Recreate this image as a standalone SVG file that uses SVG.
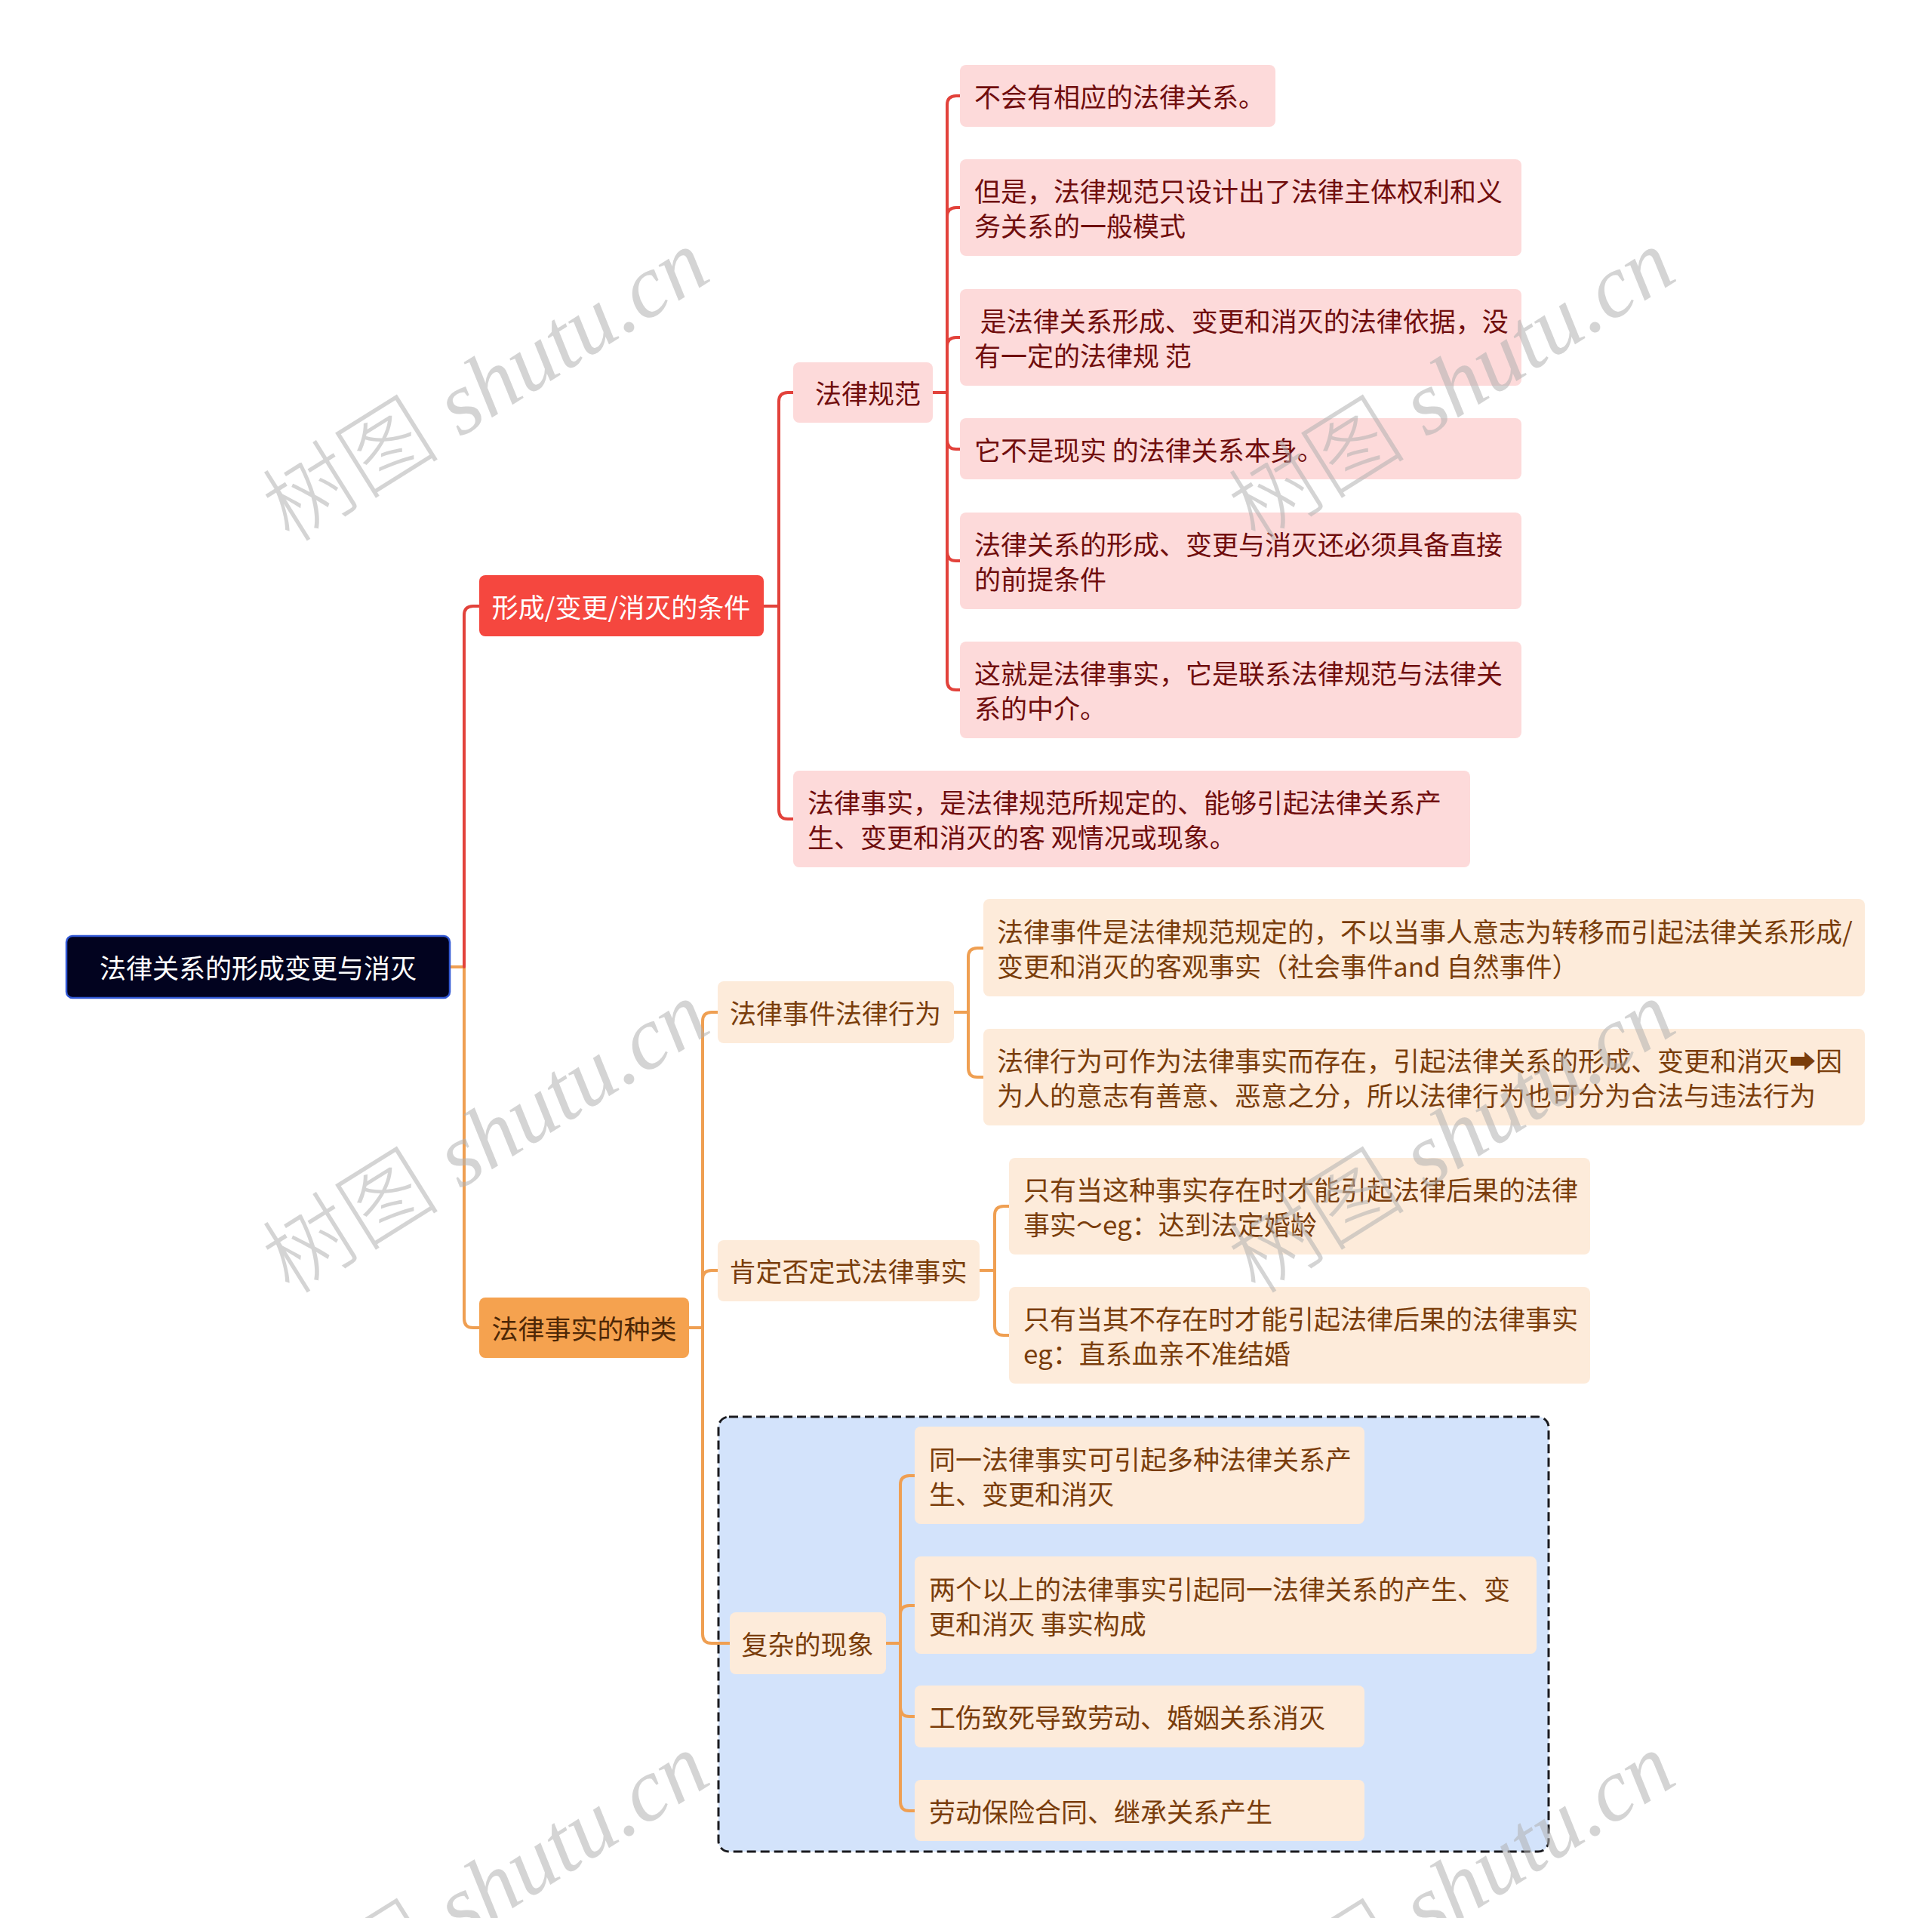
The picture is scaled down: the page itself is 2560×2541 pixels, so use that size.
<svg xmlns="http://www.w3.org/2000/svg" width="2560" height="2541" viewBox="0 0 2560 2541">
<style>
text{font-family:"Noto Sans CJK SC","Noto Sans",sans-serif;font-size:35px;dominant-baseline:central}
.root rect{fill:#02031f;stroke:#3158d4;stroke-width:2.5}
.root text{fill:#ffffff;text-anchor:middle}
.l1r rect{fill:#f5473f}
.l1r text{fill:#ffffff;text-anchor:middle}
.l1o rect{fill:#f5a24f}
.l1o text{fill:#4d2706;text-anchor:middle}
.pk rect{fill:#fddada}
.pk text{fill:#700d0d}
.pk.c text{text-anchor:middle}
.pc rect{fill:#fdebda}
.pc text{fill:#7a3d0b}
.pc.c text{text-anchor:middle}
.cr{fill:none;stroke:#e2423b;stroke-width:4;stroke-linecap:round}
.co{fill:none;stroke:#ef9f52;stroke-width:4;stroke-linecap:round}
.wm{font-family:"Liberation Serif","Noto Sans CJK SC",serif;font-size:118px;font-weight:300;fill:#b0b0b0;fill-opacity:0.55;text-anchor:middle;dominant-baseline:auto}
</style>
<rect width="2560" height="2541" fill="#ffffff"/>

<g id="boundary">
<rect x="952" y="1877" width="1100" height="576" rx="14" fill="#d3e3fb" stroke="#1b1b1f" stroke-width="3" stroke-dasharray="12 6"/>
</g>

<g id="connectors">
<path class="co" d="M596,1281 H615 V1747 Q615,1759 627,1759 H635"/>
<path class="cr" d="M615,1281 V815 Q615,803 627,803 H635"/>
<path class="cr" d="M1012,803 H1032"/>
<path class="cr" d="M1032,803 V532 Q1032,520 1044,520 H1051"/>
<path class="cr" d="M1032,803 V1073 Q1032,1085 1044,1085 H1051"/>
<path class="cr" d="M1236,520 H1255"/>
<path class="cr" d="M1255,520 V139 Q1255,127 1267,127 H1272"/>
<path class="cr" d="M1255,520 V287 Q1255,275 1267,275 H1272"/>
<path class="cr" d="M1255,520 V459 Q1255,447 1267,447 H1272"/>
<path class="cr" d="M1255,520 V583 Q1255,595 1267,595 H1272"/>
<path class="cr" d="M1255,520 V731 Q1255,743 1267,743 H1272"/>
<path class="cr" d="M1255,520 V902 Q1255,914 1267,914 H1272"/>
<path class="co" d="M913,1759 H931"/>
<path class="co" d="M931,1759 V1353 Q931,1341 943,1341 H951"/>
<path class="co" d="M931,1759 V1695 Q931,1683 943,1683 H951"/>
<path class="co" d="M931,1759 V2165 Q931,2177 943,2177 H967"/>
<path class="co" d="M1264,1341 H1283"/>
<path class="co" d="M1283,1341 V1268 Q1283,1256 1295,1256 H1303"/>
<path class="co" d="M1283,1341 V1415 Q1283,1427 1295,1427 H1303"/>
<path class="co" d="M1298,1683 H1318"/>
<path class="co" d="M1318,1683 V1610 Q1318,1598 1330,1598 H1337"/>
<path class="co" d="M1318,1683 V1757 Q1318,1769 1330,1769 H1337"/>
<path class="co" d="M1174,2177 H1193"/>
<path class="co" d="M1193,2177 V1967 Q1193,1955 1205,1955 H1212"/>
<path class="co" d="M1193,2177 V2139 Q1193,2127 1205,2127 H1212"/>
<path class="co" d="M1193,2177 V2262 Q1193,2274 1205,2274 H1212"/>
<path class="co" d="M1193,2177 V2387 Q1193,2399 1205,2399 H1212"/>
</g>

<g id="root" class="root">
<rect x="88" y="1240" width="508" height="82" rx="8"/>
<text x="342" y="1280">法律关系的形成变更与消灭</text>
</g>

<g id="n-conditions" class="l1r">
<rect x="635" y="762" width="377" height="81" rx="8"/>
<text x="823" y="802">形成/变更/消灭的条件</text>
</g>

<g id="n-norm" class="pk c">
<rect x="1051" y="480" width="185" height="80" rx="8"/>
<text x="1150" y="519">法律规范</text>
</g>

<g id="r1" class="pk">
<rect x="1272" y="86" width="418" height="82" rx="8"/>
<text x="1291" y="126">不会有相应的法律关系。</text>
</g>
<g id="r2" class="pk">
<rect x="1272" y="211" width="744" height="128" rx="8"/>
<text x="1291" y="251">但是，法律规范只设计出了法律主体权利和义</text>
<text x="1291" y="297">务关系的一般模式</text>
</g>
<g id="r3" class="pk">
<rect x="1272" y="383" width="744" height="128" rx="8"/>
<text x="1291" y="423" xml:space="preserve"> 是法律关系形成、变更和消灭的法律依据，没</text>
<text x="1291" y="469" xml:space="preserve">有一定的法律规 范</text>
</g>
<g id="r4" class="pk">
<rect x="1272" y="554" width="744" height="81" rx="8"/>
<text x="1291" y="594" xml:space="preserve">它不是现实 的法律关系本身。</text>
</g>
<g id="r5" class="pk">
<rect x="1272" y="679" width="744" height="128" rx="8"/>
<text x="1291" y="719">法律关系的形成、变更与消灭还必须具备直接</text>
<text x="1291" y="765">的前提条件</text>
</g>
<g id="r6" class="pk">
<rect x="1272" y="850" width="744" height="128" rx="8"/>
<text x="1291" y="890">这就是法律事实，它是联系法律规范与法律关</text>
<text x="1291" y="936">系的中介。</text>
</g>
<g id="r7" class="pk">
<rect x="1051" y="1021" width="897" height="128" rx="8"/>
<text x="1070" y="1061">法律事实，是法律规范所规定的、能够引起法律关系产</text>
<text x="1070" y="1107" xml:space="preserve">生、变更和消灭的客 观情况或现象。</text>
</g>

<g id="n-kinds" class="l1o">
<rect x="635" y="1719" width="278" height="80" rx="8"/>
<text x="774" y="1758">法律事实的种类</text>
</g>

<g id="n-event" class="pc c">
<rect x="951" y="1300" width="313" height="82" rx="8"/>
<text x="1107" y="1340">法律事件法律行为</text>
</g>
<g id="o1" class="pc">
<rect x="1303" y="1191" width="1168" height="129" rx="8"/>
<text x="1321" y="1232">法律事件是法律规范规定的，不以当事人意志为转移而引起法律关系形成/</text>
<text x="1321" y="1278">变更和消灭的客观事实（社会事件and 自然事件）</text>
</g>
<g id="o2" class="pc">
<rect x="1303" y="1363" width="1168" height="128" rx="8"/>
<text x="1321" y="1403">法律行为可作为法律事实而存在，引起法律关系的形成、变更和消灭➡因</text>
<text x="1321" y="1449">为人的意志有善意、恶意之分，所以法律行为也可分为合法与违法行为</text>
</g>

<g id="n-posneg" class="pc c">
<rect x="951" y="1643" width="347" height="81" rx="8"/>
<text x="1124" y="1682">肯定否定式法律事实</text>
</g>
<g id="o3" class="pc">
<rect x="1337" y="1534" width="770" height="128" rx="8"/>
<text x="1356" y="1574">只有当这种事实存在时才能引起法律后果的法律</text>
<text x="1356" y="1620">事实～eg：达到法定婚龄</text>
</g>
<g id="o4" class="pc">
<rect x="1337" y="1705" width="770" height="128" rx="8"/>
<text x="1356" y="1745">只有当其不存在时才能引起法律后果的法律事实</text>
<text x="1356" y="1791">eg：直系血亲不准结婚</text>
</g>

<g id="n-complex" class="pc c">
<rect x="967" y="2136" width="207" height="82" rx="8"/>
<text x="1070" y="2176">复杂的现象</text>
</g>
<g id="o5" class="pc">
<rect x="1212" y="1890" width="596" height="129" rx="8"/>
<text x="1231" y="1931">同一法律事实可引起多种法律关系产</text>
<text x="1231" y="1977">生、变更和消灭</text>
</g>
<g id="o6" class="pc">
<rect x="1212" y="2062" width="824" height="129" rx="8"/>
<text x="1231" y="2103">两个以上的法律事实引起同一法律关系的产生、变</text>
<text x="1231" y="2149" xml:space="preserve">更和消灭 事实构成</text>
</g>
<g id="o7" class="pc">
<rect x="1212" y="2233" width="596" height="82" rx="8"/>
<text x="1231" y="2273">工伤致死导致劳动、婚姻关系消灭</text>
</g>
<g id="o8" class="pc">
<rect x="1212" y="2358" width="596" height="81" rx="8"/>
<text x="1231" y="2398">劳动保险合同、继承关系产生</text>
</g>

<g id="watermarks">
<text class="wm" transform="translate(665,545) rotate(-32)">树图 <tspan font-style="italic">shutu.cn</tspan></text>
<text class="wm" transform="translate(1945,545) rotate(-32)">树图 <tspan font-style="italic">shutu.cn</tspan></text>
<text class="wm" transform="translate(665,1541) rotate(-32)">树图 <tspan font-style="italic">shutu.cn</tspan></text>
<text class="wm" transform="translate(1945,1541) rotate(-32)">树图 <tspan font-style="italic">shutu.cn</tspan></text>
<text class="wm" transform="translate(665,2537) rotate(-32)">树图 <tspan font-style="italic">shutu.cn</tspan></text>
<text class="wm" transform="translate(1945,2537) rotate(-32)">树图 <tspan font-style="italic">shutu.cn</tspan></text>
</g>
</svg>
